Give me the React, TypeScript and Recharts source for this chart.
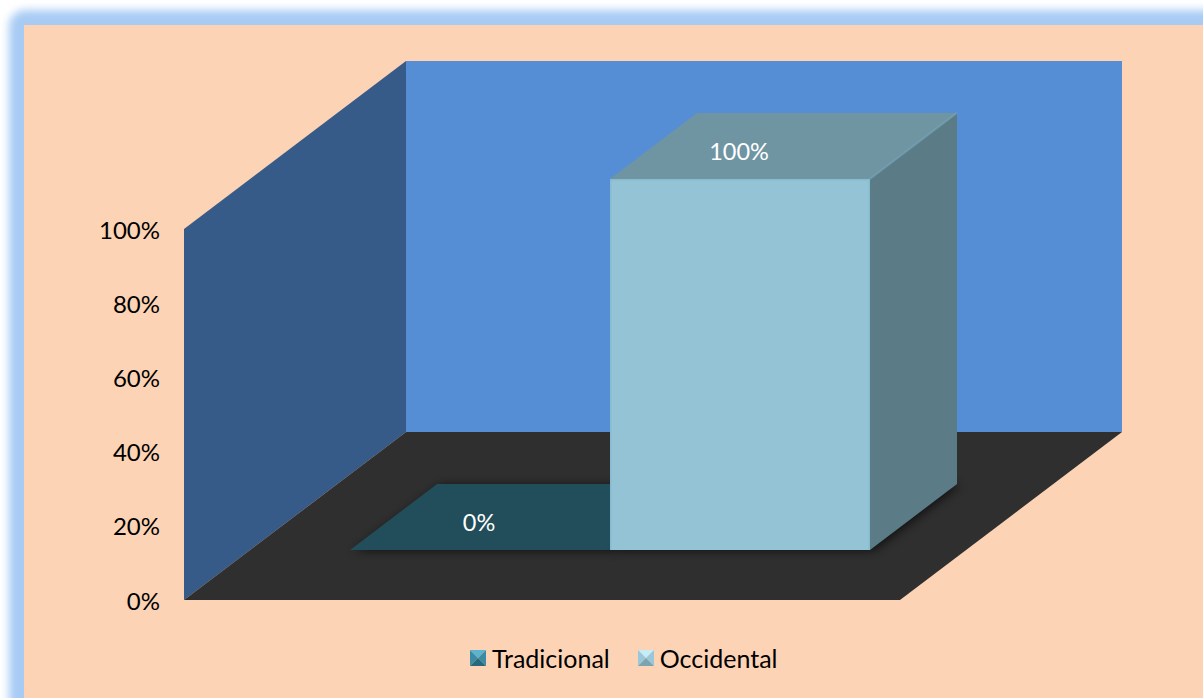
import { BarChart, Bar, XAxis, YAxis, Legend, LabelList, usePlotArea } from "recharts";

const categories = [""];
const tradicional = [0];
const occidental = [1];
const yTicks = [0, 0.2, 0.4, 0.6, 0.8, 1];

const chartData = categories.map((name, i) => ({
  name,
  Tradicional: tradicional[i],
  Occidental: occidental[i],
}));

const FONT = "Lato, 'Open Sans', sans-serif";

// projection of the box: how far the floor recedes, and how deep each bar is
const WALL_DX = 222;
const WALL_DY = 168;
const BAR_SHIFT_X = 68;
const BAR_SHIFT_Y = 50;
const BAR_DX = 87;
const BAR_DY = 66;

const points = (list: number[][]) => list.map((p) => p.join(",")).join(" ");

function Walls() {
  const plot = usePlotArea();
  if (!plot) return null;
  const { x, y, width, height } = plot;
  const bottom = y + height;
  const right = x + width;
  return (
    <g>
      <defs>
        <filter id="softShadow" x="-20%" y="-20%" width="140%" height="140%">
          <feGaussianBlur stdDeviation="5" />
        </filter>
      </defs>
      <polygon
        points={points([
          [x, y],
          [x + WALL_DX, y - WALL_DY],
          [x + WALL_DX, bottom - WALL_DY],
          [x, bottom],
        ])}
        fill="#375B88"
      />
      <rect x={x + WALL_DX} y={y - WALL_DY} width={width} height={height} fill="#558ED5" />
      <polygon
        points={points([
          [x, bottom],
          [right, bottom],
          [right + WALL_DX, bottom - WALL_DY],
          [x + WALL_DX, bottom - WALL_DY],
        ])}
        fill="#2F2F2F"
      />
    </g>
  );
}

interface BoxProps {
  x: number;
  y: number;
  width: number;
  height: number;
  front: string;
  top: string;
  side: string;
  edge: string;
}

function Box3D({ x, y, width, height, front, top, side, edge }: BoxProps) {
  const left = x + BAR_SHIFT_X;
  const right = left + width;
  const upper = y - BAR_SHIFT_Y;
  const lower = upper + height;
  return (
    <g>
      {/* soft contact shadow on the floor */}
      <polygon
        points={points([
          [left, lower],
          [right, lower],
          [right + BAR_DX, lower - BAR_DY],
          [left + BAR_DX, lower - BAR_DY],
        ])}
        fill="#000"
        opacity={0.6}
        filter="url(#softShadow)"
        transform="translate(4 1)"
      />
      <polygon
        points={points([
          [left, upper],
          [right, upper],
          [right + BAR_DX, upper - BAR_DY],
          [left + BAR_DX, upper - BAR_DY],
        ])}
        fill={top}
      />
      {height > 0 && (
        <>
          <polygon
            points={points([
              [right, upper],
              [right + BAR_DX, upper - BAR_DY],
              [right + BAR_DX, lower - BAR_DY],
              [right, lower],
            ])}
            fill={side}
          />
          <rect x={left} y={upper} width={width} height={height} fill={front} />
          <polyline
            points={points([
              [left + 0.75, lower],
              [left + 0.75, upper + 0.75],
              [right - 0.75, upper + 0.75],
              [right - 0.75, lower],
            ])}
            fill="none"
            stroke={edge}
            strokeWidth={1.5}
          />
          <line x1={right} y1={upper} x2={right + BAR_DX} y2={upper - BAR_DY} stroke={edge} strokeWidth={2} opacity={0.35} />
        </>
      )}
    </g>
  );
}

function FaceLabel({ x, y, width, value }: any) {
  return (
    <text
      x={x + BAR_SHIFT_X + width / 2 - 1}
      y={y - BAR_SHIFT_Y - 28}
      textAnchor="middle"
      dominantBaseline="central"
      fill="#fff"
      fontFamily={FONT}
      fontSize={23.5}
    >
      {`${Math.round(value * 100)}%`}
    </text>
  );
}

const markerFaces: Record<string, string[]> = {
  Tradicional: ["#5BB3CE", "#3B8BA5", "#3B8BA5", "#27687D"],
  Occidental: ["#C3EEF9", "#9BC8D8", "#9BC8D8", "#7BA4B3"],
};

function Marker({ name }: { name: string }) {
  const [up, l, r, down] = markerFaces[name];
  return (
    <svg width={16} height={16} style={{ display: "block" }}>
      <polygon points="0,0 16,0 8,8" fill={up} />
      <polygon points="0,0 8,8 0,16" fill={l} />
      <polygon points="16,0 8,8 16,16" fill={r} />
      <polygon points="0,16 8,8 16,16" fill={down} />
    </svg>
  );
}

function LegendRow({ payload }: any) {
  return (
    <div style={{ display: "flex", alignItems: "center", fontFamily: FONT, fontSize: 25, color: "#000" }}>
      {(payload || []).map((entry: any, i: number) => (
        <div key={entry.value} style={{ display: "flex", alignItems: "center", marginLeft: i ? 28 : 0 }}>
          <Marker name={entry.value} />
          <span style={{ marginLeft: 6 }}>{entry.value}</span>
        </div>
      ))}
    </div>
  );
}

export default function App() {
  return (
    <div style={{ position: "absolute", left: 0, top: 0, width: 1203, height: 698, overflow: "hidden", background: "#fff" }}>
      <div
        style={{
          position: "absolute",
          left: 9,
          top: 10,
          width: 1300,
          height: 800,
          borderRadius: 16,
          background: "#A8CBF4",
          filter: "blur(4px)",
        }}
      />
      <div style={{ position: "absolute", left: 24, top: 25, width: 1179, height: 673, background: "#FDD3B5" }} />
      <div style={{ position: "absolute", left: 0, top: 0 }}>
        <BarChart
          width={1203}
          height={698}
          data={chartData}
          margin={{ top: 229, right: 303, bottom: 98, left: 124 }}
          barCategoryGap={98}
          barGap={0}
        >
          <Walls />
          <XAxis dataKey="name" hide />
          <YAxis
            width={60}
            domain={[0, 1]}
            ticks={yTicks}
            tickFormatter={(v: number) => `${Math.round(v * 100)}%`}
            axisLine={false}
            tickLine={false}
            tickSize={0}
            tickMargin={24}
            tick={{ fontSize: 24, fill: "#000", fontFamily: FONT, dy: 1 }}
          />
          <Legend
            layout="horizontal"
            verticalAlign="middle"
            align="center"
            itemSorter={null}
            content={<LegendRow />}
            wrapperStyle={{ left: 470, top: 643, width: 340, height: 30 }}
          />
          <Bar
            dataKey="Tradicional"
            fill="#2F7F96"
            isAnimationActive={false}
            shape={(p: any) => <Box3D {...p} front="#2F7F96" top="#214E5A" side="#1B3F49" edge="#2F7F96" />}
          >
            <LabelList dataKey="Tradicional" content={<FaceLabel />} />
          </Bar>
          <Bar
            dataKey="Occidental"
            fill="#93C3D5"
            isAnimationActive={false}
            shape={(p: any) => <Box3D {...p} front="#93C3D5" top="#6F95A3" side="#5B7B87" edge="#86BBD0" />}
          >
            <LabelList dataKey="Occidental" content={<FaceLabel />} />
          </Bar>
        </BarChart>
      </div>
    </div>
  );
}
